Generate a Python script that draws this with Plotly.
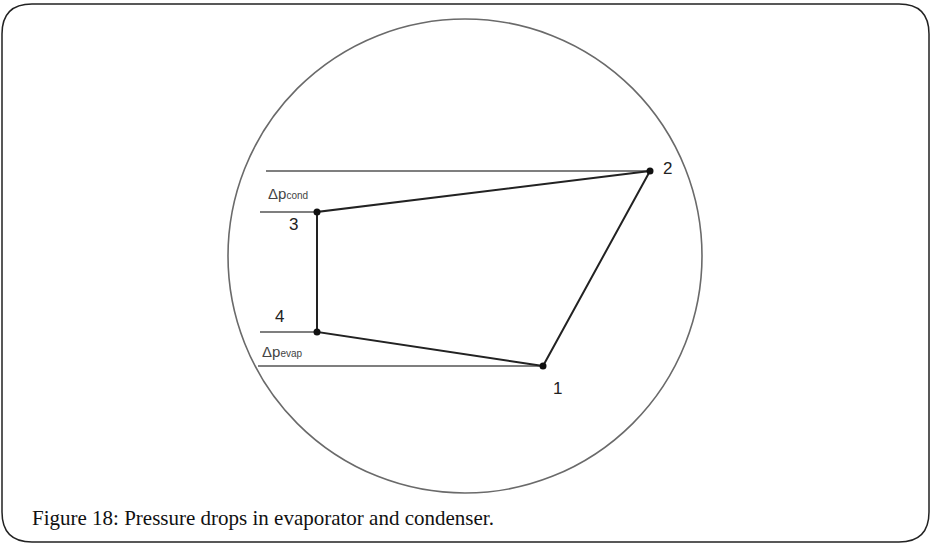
import plotly.graph_objects as go

# cycle state points (pixel-space diagram coordinates)
point_labels = ["1", "2", "3", "4"]
point_x = [543, 650, 317, 317]
point_y = [366, 171, 212, 332]

# cycle path 1 -> 2 -> 3 -> 4 -> 1
cycle_order = [0, 1, 2, 3, 0]

# horizontal pressure reference lines: (x start, x end, y)
ref_x0 = [266, 260, 260, 258]
ref_x1 = [650, 317, 317, 543]
ref_y = [171, 212, 332, 366]

# circle of the diagram
circle_cx, circle_cy, circle_r = 465, 256, 237

caption = "Figure 18: Pressure drops in evaporator and condenser."

fig = go.Figure()

# reference lines
for x0, x1, y in zip(ref_x0, ref_x1, ref_y):
    fig.add_trace(go.Scatter(x=[x0, x1], y=[y, y], mode="lines",
                             line=dict(color="#555555", width=1.6),
                             hoverinfo="skip", showlegend=False))

# cycle
fig.add_trace(go.Scatter(
    x=[point_x[i] for i in cycle_order],
    y=[point_y[i] for i in cycle_order],
    mode="lines", line=dict(color="#222222", width=2),
    hoverinfo="skip", showlegend=False))

fig.add_trace(go.Scatter(x=point_x, y=point_y, mode="markers",
                         marker=dict(color="#111111", size=7),
                         hoverinfo="skip", showlegend=False))

# point labels
label_dx = [14, 17, -24, -38]
label_dy = [22, -3, 12, -16]
for lab, x, y, dx, dy in zip(point_labels, point_x, point_y, label_dx, label_dy):
    fig.add_annotation(x=x + dx, y=y + dy, text=lab, showarrow=False,
                       font=dict(family="Liberation Sans, Arial", size=17, color="#222222"))

# pressure drop labels
fig.add_annotation(x=266, y=193, xanchor="left", showarrow=False,
                   text="Δp<span style='font-size:10px'>cond</span>",
                   font=dict(family="Liberation Sans, Arial", size=15, color="#444444"))
fig.add_annotation(x=260, y=351, xanchor="left", showarrow=False,
                   text="Δp<span style='font-size:10px'>evap</span>",
                   font=dict(family="Liberation Sans, Arial", size=15, color="#444444"))

fig.add_shape(type="circle", xref="x", yref="y",
              x0=circle_cx - circle_r, x1=circle_cx + circle_r,
              y0=circle_cy - circle_r, y1=circle_cy + circle_r,
              line=dict(color="#6a6a6a", width=1.6))

# rounded frame
r = 30
x0, x1, y0, y1 = 2, 929, 4, 542
frame = (f"M {x0 + r},{y0} L {x1 - r},{y0} Q {x1},{y0} {x1},{y0 + r} "
         f"L {x1},{y1 - r} Q {x1},{y1} {x1 - r},{y1} L {x0 + r},{y1} "
         f"Q {x0},{y1} {x0},{y1 - r} L {x0},{y0 + r} Q {x0},{y0} {x0 + r},{y0} Z")
fig.add_shape(type="path", xref="x", yref="y", path=frame,
              line=dict(color="#222222", width=1.5))

fig.add_annotation(x=30, y=518, xanchor="left", showarrow=False, text=caption,
                   font=dict(family="Liberation Serif, DejaVu Serif", size=21, color="#111111"))

fig.update_layout(
    width=931, height=545,
    margin=dict(l=0, r=0, t=0, b=0),
    plot_bgcolor="white", paper_bgcolor="white",
    xaxis=dict(range=[0, 931], visible=False, fixedrange=True),
    yaxis=dict(range=[545, 0], visible=False, fixedrange=True),
)

fig.write_html("out.html", config={"displayModeBar": False},
               post_script="document.body.style.margin='0';document.body.style.overflow='hidden';")
